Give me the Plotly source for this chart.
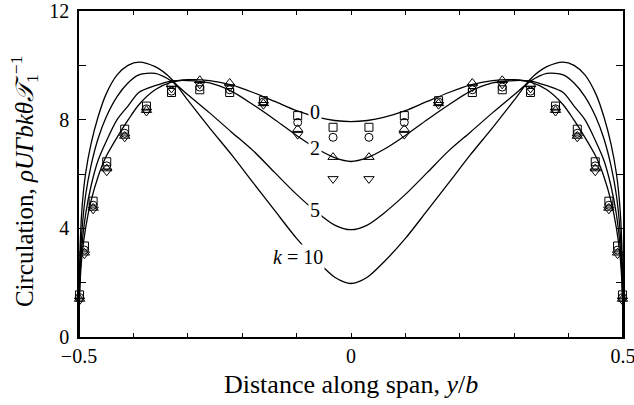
import plotly.graph_objects as go

# ---- data ----
span_pos = [-0.499, -0.490, -0.474, -0.449, -0.416, -0.376, -0.330, -0.278, -0.223, -0.161, -0.098, -0.033,
            0.033, 0.098, 0.161, 0.223, 0.278, 0.330, 0.376, 0.416, 0.449, 0.474, 0.490, 0.499]
meas_square = [1.55, 3.35, 5.0, 6.45, 7.65, 8.5, 9.0, 9.1, 9.0, 8.7, 8.15, 7.72,
               7.72, 8.15, 8.7, 9.0, 9.1, 9.0, 8.5, 7.65, 6.45, 5.0, 3.35, 1.55]
meas_circle = [1.45, 3.2, 4.85, 6.3, 7.5, 8.4, 9.05, 9.2, 9.1, 8.65, 7.9, 7.35,
               7.35, 7.9, 8.65, 9.1, 9.2, 9.05, 8.4, 7.5, 6.3, 4.85, 3.2, 1.45]
meas_tri_up = [1.4, 3.1, 4.75, 6.2, 7.4, 8.35, 9.3, 9.45, 9.35, 8.6, 7.65, 6.62,
               6.62, 7.65, 8.6, 9.35, 9.45, 9.3, 8.35, 7.4, 6.2, 4.75, 3.1, 1.4]
meas_tri_down = [1.35, 3.05, 4.7, 6.1, 7.35, 8.3, 9.15, 9.3, 9.2, 8.55, 7.45, 5.82,
                 5.82, 7.45, 8.55, 9.2, 9.3, 9.15, 8.3, 7.35, 6.1, 4.7, 3.05, 1.35]

curve_x = [-0.5, -0.499, -0.495, -0.488, -0.478, -0.465, -0.45, -0.43, -0.41, -0.39, -0.36, -0.33, -0.3,
           -0.26, -0.22, -0.18, -0.14, -0.1, -0.06, -0.03, 0, 0.03, 0.06, 0.1, 0.14, 0.18, 0.22, 0.26,
           0.3, 0.33, 0.36, 0.39, 0.41, 0.43, 0.45, 0.465, 0.478, 0.488, 0.495, 0.499, 0.5]
theory_k0 = [0, 1.5, 2.9, 4.0, 5.0, 5.9, 6.65, 7.35, 7.98, 8.55, 9.1, 9.38, 9.47, 9.44, 9.28, 9.0, 8.67,
             8.33, 8.08, 7.97, 7.93, 7.97, 8.08, 8.33, 8.67, 9.0, 9.28, 9.44, 9.47, 9.38, 9.1, 8.55, 7.98,
             7.35, 6.65, 5.9, 5.0, 4.0, 2.9, 1.5, 0]
theory_k2 = [0, 1.7, 3.3, 4.5, 5.55, 6.5, 7.2, 8.0, 8.5, 9.0, 9.25, 9.42, 9.44, 9.35, 9.05, 8.55, 8.0,
             7.42, 6.9, 6.6, 6.46, 6.6, 6.9, 7.42, 8.0, 8.55, 9.05, 9.35, 9.44, 9.42, 9.25, 9.0, 8.5,
             8.0, 7.2, 6.5, 5.55, 4.5, 3.3, 1.7, 0]
theory_k5 = [0, 2.0, 3.8, 5.2, 6.3, 7.3, 8.1, 8.85, 9.35, 9.65, 9.7, 9.42, 8.92, 8.25, 7.55, 6.86, 6.05,
             5.25, 4.55, 4.12, 3.95, 4.12, 4.55, 5.25, 6.05, 6.86, 7.55, 8.25, 8.92, 9.42, 9.7, 9.65, 9.35,
             8.85, 8.1, 7.3, 6.3, 5.2, 3.8, 2.0, 0]
theory_k10 = [0, 2.5, 4.6, 6.0, 7.1, 8.1, 8.95, 9.65, 10.0, 10.12, 9.95, 9.5, 8.72, 7.7, 6.72, 5.68, 4.65,
              3.63, 2.75, 2.2, 1.97, 2.2, 2.75, 3.63, 4.65, 5.68, 6.72, 7.7, 8.72, 9.5, 9.95, 10.12, 10.0,
              9.65, 8.95, 8.1, 7.1, 6.0, 4.6, 2.5, 0]

curve_labels = ["0", "2", "5", "<i>k</i> = 10"]
label_x = [-0.067, -0.067, -0.067, -0.098]
label_y = [8.29, 6.94, 4.66, 2.94]

x_tickvals = [-0.5, 0, 0.5]
x_ticktext = ["\u22120.5", "0", "0.5"]
y_tickvals = [0, 4, 8, 12]

FONT = "Liberation Serif, Times New Roman, serif"

fig = go.Figure()

for ys in [theory_k0, theory_k2, theory_k5, theory_k10]:
    fig.add_trace(go.Scatter(x=curve_x, y=ys, mode="lines",
                             line=dict(color="black", width=1.3, shape="spline", smoothing=0.8),
                             cliponaxis=False, showlegend=False, hoverinfo="skip"))

for ys, sym, sz in [(meas_square, "square-open", 8), (meas_circle, "circle-open", 8),
                    (meas_tri_up, "triangle-up-open", 9), (meas_tri_down, "triangle-down-open", 9)]:
    fig.add_trace(go.Scatter(x=span_pos, y=ys, mode="markers",
                             marker=dict(symbol=sym, size=sz, color="black", line=dict(width=1, color="black")),
                             cliponaxis=False, showlegend=False))

for t, lx, ly in zip(curve_labels, label_x, label_y):
    fig.add_annotation(x=lx, y=ly, text=t, showarrow=False, xref="x", yref="y",
                       font=dict(family=FONT, size=20, color="black"), bgcolor="white", borderpad=1)

fig.add_annotation(xref="paper", yref="paper", x=0.5, y=-0.145, yanchor="middle", xanchor="center",
                   text="Distance along span, <i>y</i>/<i>b</i>", showarrow=False,
                   font=dict(family=FONT, size=26, color="black"))
fig.add_annotation(xref="paper", yref="paper", x=-0.1, y=0.477, xanchor="center", yanchor="middle",
                   textangle=-90,
                   text="Circulation, <i>\u03c1U\u0393bk\u03b8\U0001D4AF</i><sub>1</sub><sup>\u22121</sup>",
                   showarrow=False, font=dict(family=FONT, size=25, color="black"))

fig.update_xaxes(range=[-0.5, 0.5], tickvals=x_tickvals, ticktext=x_ticktext, ticks="inside", ticklen=4,
                 tickwidth=1, tickcolor="black", showline=True, linecolor="black", linewidth=1.5,
                 mirror="allticks", showgrid=False, zeroline=False, automargin=False,
                 ticklabeloverflow="allow",
                 minor=dict(dtick=0.1, tick0=0, ticks="inside", ticklen=4, tickcolor="black", showgrid=False),
                 tickfont=dict(family=FONT, size=20, color="black"))
fig.update_yaxes(range=[0, 12], tickvals=y_tickvals, ticks="inside", ticklen=7, tickwidth=1,
                 tickcolor="black", showline=True, linecolor="black", linewidth=1.5, mirror="allticks",
                 showgrid=False, zeroline=False, automargin=False, ticklabeloverflow="allow",
                 minor=dict(dtick=2, tick0=0, ticks="inside", ticklen=7, tickcolor="black", showgrid=False),
                 tickfont=dict(family=FONT, size=20, color="black"), ticklabelstandoff=4)

fig.update_layout(width=634, height=405, margin=dict(l=79, r=11, t=11, b=68),
                  paper_bgcolor="white", plot_bgcolor="white", showlegend=False)

fig.write_html("out.html", config={"displayModeBar": False},
               post_script="document.body.style.margin='0';document.body.style.overflow='hidden';")
